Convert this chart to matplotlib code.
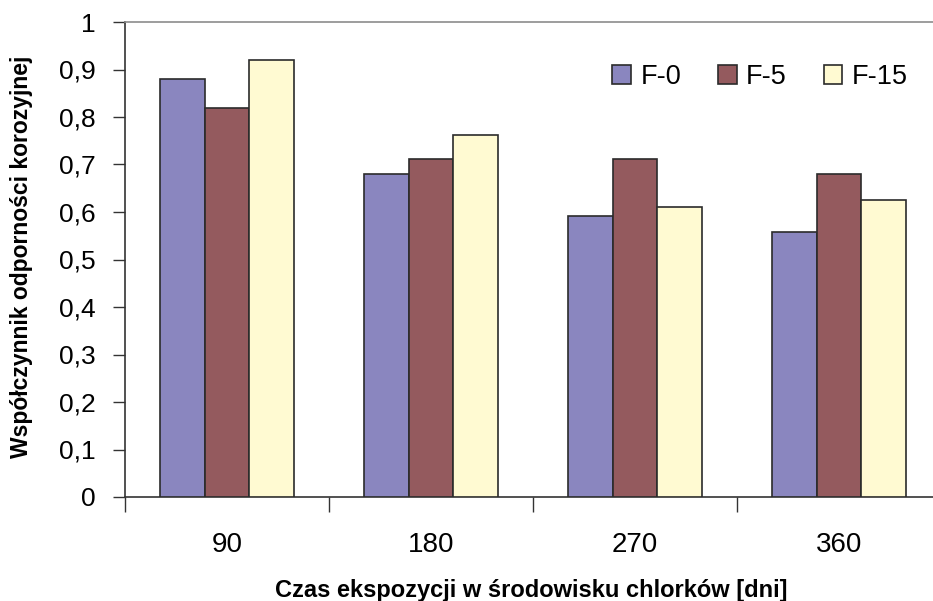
import matplotlib.pyplot as plt
import numpy as np
from matplotlib.ticker import FixedLocator, FuncFormatter

# dane
days = ['90', '180', '270', '360']
f0 = [0.88, 0.68, 0.592, 0.557]
f5 = [0.82, 0.712, 0.711, 0.679]
f15 = [0.92, 0.762, 0.611, 0.625]
series_names = ['F-0', 'F-5', 'F-15']
colors = ['#8a86bf', '#945a5e', '#fffad2']

plt.rcParams['font.family'] = ['Liberation Sans', 'DejaVu Sans']

fig = plt.figure(figsize=(9.33, 6.01), dpi=100)
ax = fig.add_axes([125 / 933, 104 / 601, 816 / 933, 475 / 601])

x = np.arange(len(days))
w = 0.22
for i, (vals, name, c) in enumerate(zip([f0, f5, f15], series_names, colors)):
    ax.bar(x + (i - 1) * w, vals, w, color=c, edgecolor='#2b2b2b', linewidth=1.2,
           label=name, zorder=3)

ax.set_xlim(-0.5, len(days) - 0.5)
ax.set_ylim(0, 1)

# kreski na granicach kategorii, etykiety na srodku
ax.xaxis.set_major_locator(FixedLocator(np.arange(len(days) + 1) - 0.5))
ax.xaxis.set_major_formatter(FuncFormatter(lambda v, p: ''))
ax.set_xticks(x, days, minor=True)
ax.tick_params(axis='x', which='major', length=11, width=1.0, color='#333333', direction='out')
ax.tick_params(axis='x', which='minor', length=0, pad=25, labelsize=20)

ax.set_yticks(np.arange(0, 1.01, 0.1))
ax.yaxis.set_major_formatter(FuncFormatter(lambda v, p: ('%g' % round(v, 1)).replace('.', ',')))
ax.tick_params(axis='y', length=9, width=1.0, color='#333333', labelsize=19, pad=12)

for s in ['left', 'bottom']:
    ax.spines[s].set_color('#333333')
    ax.spines[s].set_linewidth(1.2)
ax.spines['right'].set_visible(False)
ax.spines['top'].set_color('#8c8c8c')
ax.spines['top'].set_linewidth(1.2)

ax.set_xlabel('Czas ekspozycji w środowisku chlorków [dni]', fontsize=17, fontweight='bold', va='center')
ax.set_ylabel('Współczynnik odporności korozyjnej', fontsize=16.5, fontweight='bold', va='center')
ax.xaxis.set_label_coords((531 - 125) / 816, -(591 - 497) / 475)
ax.yaxis.set_label_coords(-(125 - 22) / 816, (497 - 257) / 475)

ax.legend(loc='center left', bbox_to_anchor=((612 - 125) / 816, (497 - 77) / 475), ncol=3, frameon=False,
          fontsize=19.5, handlelength=0.7, handleheight=0.7, handletextpad=0.35, columnspacing=1.35,
          borderpad=0, borderaxespad=0)

fig.savefig('out.png', dpi=100)
